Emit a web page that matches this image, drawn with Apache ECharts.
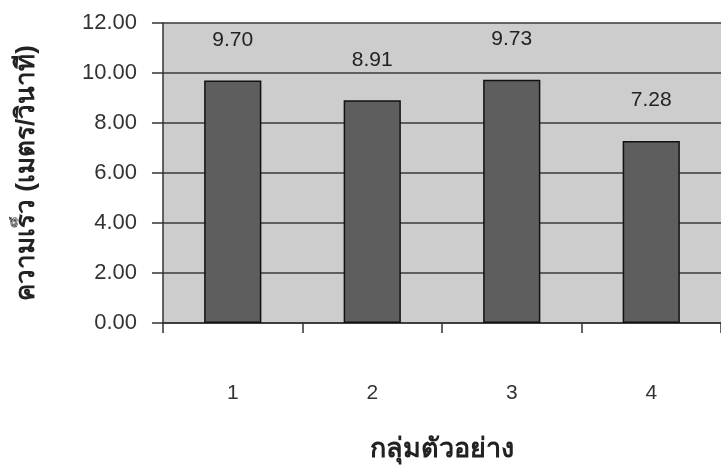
<!DOCTYPE html>
<html>
<head>
<meta charset="utf-8">
<script src="https://cdn.jsdelivr.net/npm/echarts@6/dist/echarts.min.js"></script>
<style>
html,body{margin:0;padding:0;background:#fff;}
#chart{width:721px;height:468px;}
</style>
</head>
<body>
<div id="chart"></div>
<script>
var categories = ['1', '2', '3', '4'];
var speeds = [9.70, 8.91, 9.73, 7.28];
var yTitle = 'ความเร็ว (เมตร/วินาที)';
var xTitle = 'กลุ่มตัวอย่าง';

var chart = echarts.init(document.getElementById('chart'), null, {renderer: 'canvas'});
var font = '"Liberation Sans", Arial, sans-serif';
chart.setOption({
  animation: false,
  backgroundColor: '#ffffff',
  grid: {
    left: 163, top: 23, right: -6, bottom: 145,
    show: true, backgroundColor: '#cdcdcd', borderWidth: 0
  },
  xAxis: {
    type: 'category',
    data: categories,
    name: xTitle,
    nameLocation: 'middle',
    nameGap: 113,
    nameTextStyle: {fontSize: 27, fontWeight: 'bold', color: '#222', fontFamily: font},
    axisLine: {show: true, lineStyle: {color: '#333', width: 1.5}},
    axisTick: {show: true, length: 10, lineStyle: {color: '#333', width: 1.5}},
    axisLabel: {margin: 60, fontSize: 21, color: '#333', fontFamily: font},
    splitLine: {show: false}
  },
  yAxis: {
    type: 'value',
    min: 0, max: 12, interval: 2,
    name: yTitle,
    nameLocation: 'middle',
    nameGap: 123,
    nameTextStyle: {fontSize: 26, fontWeight: 'bold', color: '#222', fontFamily: font},
    axisLine: {show: true, lineStyle: {color: '#333', width: 1.5}},
    axisTick: {show: true, length: 11, lineStyle: {color: '#333', width: 1.5}},
    axisLabel: {margin: 26, fontSize: 22, color: '#333', fontFamily: font,
      formatter: function (v) { return v.toFixed(2); }},
    splitLine: {show: true, lineStyle: {color: '#3a3a3a', width: 1.5}}
  },
  series: [{
    type: 'bar',
    data: speeds,
    barWidth: '41%',
    itemStyle: {color: '#5e5e5e', borderColor: '#111', borderWidth: 1.5},
    label: {
      show: true, position: 'top', distance: 30,
      fontSize: 21, color: '#222', fontFamily: font,
      formatter: function (p) { return p.value.toFixed(2); }
    }
  }]
});
</script>
</body>
</html>
